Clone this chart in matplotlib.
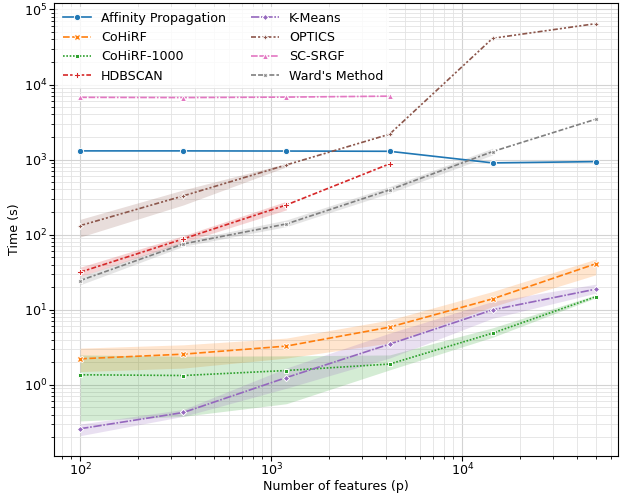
import numpy as np
import matplotlib
matplotlib.use("Agg")
import matplotlib.pyplot as plt
from matplotlib.ticker import NullFormatter

plt.rcParams["font.size"] = 9.1
plt.rcParams["xtick.major.pad"] = 1.0
plt.rcParams["ytick.major.pad"] = 1.5
plt.rcParams["xtick.minor.pad"] = 1.0
plt.rcParams["ytick.minor.pad"] = 1.5

features = [100, 347, 1201, 4163, 14427, 50000]

methods = ["Affinity Propagation", "CoHiRF", "CoHiRF-1000", "HDBSCAN",
           "K-Means", "OPTICS", "SC-SRGF", "Ward's Method"]

affinity = [1306, 1306, 1300, 1290, 904, 940]
cohirf = [2.22, 2.56, 3.28, 5.86, 13.97, 40.9]
cohirf_lo = [1.50, 1.67, 2.27, 3.6, 11.0, 29.2]
cohirf_hi = [3.08, 3.41, 4.19, 7.3, 17.5, 47.2]
cohirf1000 = [1.36, 1.33, 1.55, 1.89, 4.88, 14.9]
cohirf1000_lo = [0.33, 0.38, 0.56, 1.58, 4.3, 14.4]
cohirf1000_hi = [2.5, 2.4, 2.43, 2.5, 5.74, 15.8]
hdbscan = [31.7, 88, 249, 877]
hdbscan_lo = [27.7, 79, 214, 877]
hdbscan_hi = [36.9, 97, 279, 877]
kmeans = [0.26, 0.428, 1.25, 3.48, 9.97, 18.8]
kmeans_lo = [0.21, 0.38, 0.9, 2.27, 7.7, 16.6]
kmeans_hi = [0.30, 0.47, 1.67, 4.88, 12.9, 21.9]
optics = [132, 329, 850, 2180, 41300, 64700]
optics_lo = [93, 249, 800, 2180, 41300, 64700]
optics_hi = [160, 395, 890, 2180, 41300, 64700]
scsrgf = [6750, 6700, 6800, 7000]
ward = [24.5, 75.4, 139, 395, 1279, 3450]
ward_lo = [21.5, 70, 128, 357, 1155, 3450]
ward_hi = [27.7, 82, 157, 437, 1418, 3450]

series = [
    (affinity, None, None),
    (cohirf, cohirf_lo, cohirf_hi),
    (cohirf1000, cohirf1000_lo, cohirf1000_hi),
    (hdbscan, hdbscan_lo, hdbscan_hi),
    (kmeans, kmeans_lo, kmeans_hi),
    (optics, optics_lo, optics_hi),
    (scsrgf, None, None),
    (ward, ward_lo, ward_hi),
]
band_len = [0, 6, 6, 3, 6, 3, 0, 5]

colors = plt.get_cmap("tab10").colors
markers = ["o", "X", (4, 0, 45), "P", (4, 0, 0), (4, 1, 0), "^", (4, 1, 45)]
dashes = [None, (4, 1.5), (1, 1), (3, 1.25, 1.5, 1.25), (5, 1, 1, 1),
          (3, 1.25, 1.25, 1.25, 1.25, 1.25), (4, 1, 4, 1, 1, 1),
          (3, 1.25, 3, 1.25, 1.25, 1.25)]

fig = plt.figure(figsize=(6.22, 4.95), dpi=100)
ax = fig.add_axes([0.087, 0.079, 0.907, 0.915])

for i, (name, (vals, lo, hi)) in enumerate(zip(methods, series)):
    x = features[:len(vals)]
    line, = ax.plot(x, vals, color=colors[i], marker=markers[i], markersize=4.5,
                    markeredgecolor="w", markeredgewidth=0.7, lw=1.2, label=name)
    if dashes[i] is not None:
        line.set_dashes(dashes[i])
    if lo is not None and band_len[i] > 1:
        n = band_len[i]
        ax.fill_between(features[:n], lo[:n], hi[:n], color=colors[i], alpha=0.2, lw=0)

ax.set_xscale("log")
ax.set_yscale("log")
ax.set_xlim(73, 65600)
ax.set_ylim(0.113, 1.22e5)
ax.xaxis.set_minor_formatter(NullFormatter())
ax.yaxis.set_minor_formatter(NullFormatter())
ax.grid(True, which="major", color="#d3d3d3", lw=0.8)
ax.grid(True, which="minor", color="#e3e3e3", lw=0.6)
ax.set_axisbelow(True)
ax.set_xlabel("Number of features (p)", labelpad=1)
ax.set_ylabel("Time (s)", labelpad=2)
ax.legend(loc="upper left", ncol=2, frameon=True, framealpha=0.8, edgecolor="none",
          handlelength=2.2, columnspacing=2.0, borderaxespad=0.3)

fig.savefig("out.png", dpi=100)
